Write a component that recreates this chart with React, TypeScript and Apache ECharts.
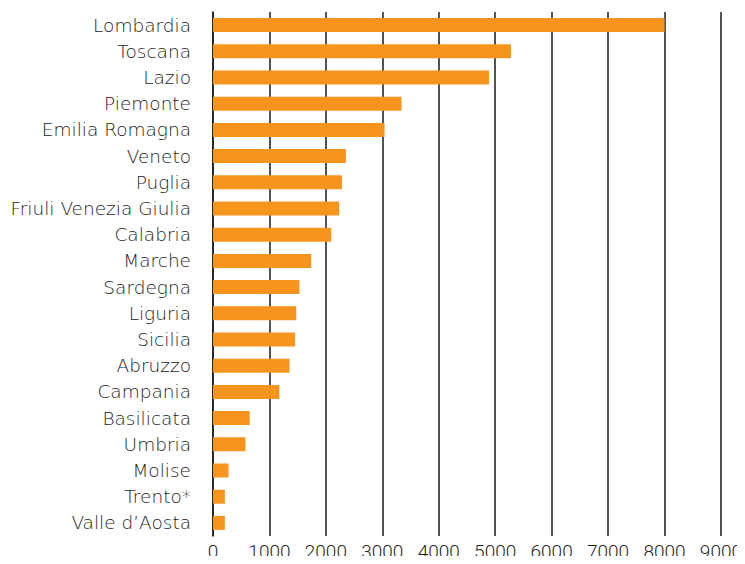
import React, { useEffect, useRef } from "react";
import * as echarts from "echarts";

const regions = [
  "Lombardia",
  "Toscana",
  "Lazio",
  "Piemonte",
  "Emilia Romagna",
  "Veneto",
  "Puglia",
  "Friuli Venezia Giulia",
  "Calabria",
  "Marche",
  "Sardegna",
  "Liguria",
  "Sicilia",
  "Abruzzo",
  "Campania",
  "Basilicata",
  "Umbria",
  "Molise",
  "Trento*",
  "Valle d’Aosta",
];

const values = [
  8000, 5280, 4890, 3340, 3040, 2355, 2285, 2235, 2095, 1740, 1530, 1475, 1455,
  1355, 1175, 650, 575, 275, 210, 210,
];

const xMin = 0;
const xMax = 9000;
const xStep = 1000;

export default function App() {
  const ref = useRef<HTMLDivElement>(null);

  useEffect(() => {
    if (!ref.current) return;
    const chart = echarts.init(ref.current, undefined, { renderer: "svg" });
    chart.setOption({
      animation: false,
      backgroundColor: "#ffffff",
      grid: { left: 213, right: 22, top: 12, bottom: 28, containLabel: false },
      xAxis: {
        type: "value",
        min: xMin,
        max: xMax,
        interval: xStep,
        axisLine: { show: false },
        axisTick: { show: false },
        axisLabel: {
          color: "#1f1f1f",
          fontSize: 19,
          fontFamily: "Roboto, sans-serif",
          fontWeight: 300,
          margin: 6,
          formatter: (v: number) => String(v),
        },
        splitLine: { show: true, lineStyle: { color: "#1a1a1a", width: 1.5 } },
      },
      yAxis: {
        type: "category",
        inverse: true,
        data: regions,
        axisLine: { show: true, lineStyle: { color: "#1a1a1a", width: 1.5 } },
        axisTick: { show: false },
        axisLabel: {
          color: "#1c1c1c",
          fontSize: 18.5,
          fontFamily: "'DejaVu Sans', sans-serif",
          fontWeight: 200,
          margin: 22,
        },
      },
      series: [
        {
          type: "bar",
          data: values,
          barWidth: 14,
          itemStyle: { color: "#F7941D" },
        },
      ],
    });
    return () => chart.dispose();
  }, []);

  return <div ref={ref} style={{ width: 745, height: 564, margin: -8 }} />;
}
